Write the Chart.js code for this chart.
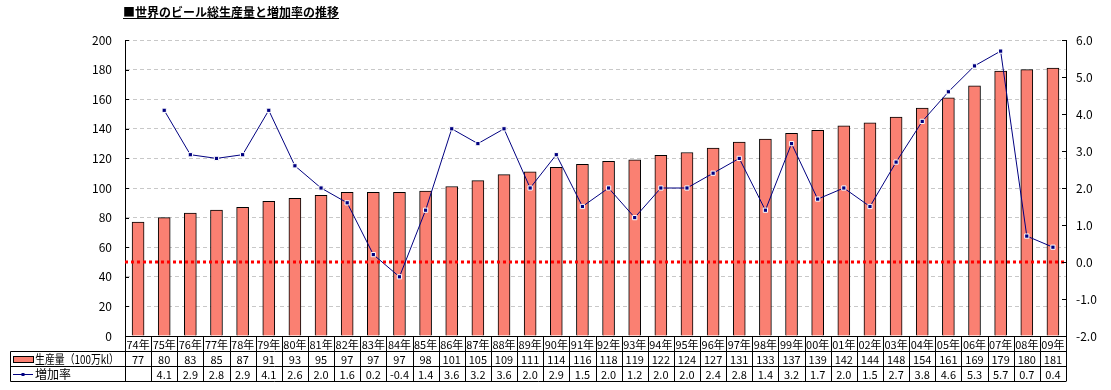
<!DOCTYPE html>
<html>
<head>
<meta charset="utf-8">
<script src="https://cdn.jsdelivr.net/npm/chart.js@4"></script>
<style>
  html, body { margin: 0; padding: 0; background: #fff; }
  #wrap { position: relative; width: 1111px; height: 390px; }
  #title {
    position: absolute; left: 123px; top: 3px;
    font: bold 12px "Noto Sans CJK JP", sans-serif;
    text-decoration: underline; white-space: nowrap; color: #000;
  }
</style>
</head>
<body>
<div id="wrap">
  <canvas id="myChart" width="1111" height="390"></canvas>
  <div id="title">■世界のビール総生産量と増加率の推移</div>
</div>
<script>
const years = ["74年", "75年", "76年", "77年", "78年", "79年", "80年", "81年", "82年", "83年", "84年", "85年",
  "86年", "87年", "88年", "89年", "90年", "91年", "92年", "93年", "94年", "95年", "96年", "97年",
  "98年", "99年", "00年", "01年", "02年", "03年", "04年", "05年", "06年", "07年", "08年", "09年"];
// 生産量 (100万kl)
const production = [77, 80, 83, 85, 87, 91, 93, 95, 97, 97, 97, 98, 101, 105, 109, 111, 114, 116, 118, 119,
  122, 124, 127, 131, 133, 137, 139, 142, 144, 148, 154, 161, 169, 179, 180, 181];
// 増加率 (%)
const growth = [null, 4.1, 2.9, 2.8, 2.9, 4.1, 2.6, 2.0, 1.6, 0.2, -0.4, 1.4, 3.6, 3.2, 3.6, 2.0, 2.9, 1.5,
  2.0, 1.2, 2.0, 2.0, 2.4, 2.8, 1.4, 3.2, 1.7, 2.0, 1.5, 2.7, 3.8, 4.6, 5.3, 5.7, 0.7, 0.4];

const barColor = "#FA8072";
const lineColor = "#000080";
const FONT = '"Noto Sans CJK JP", sans-serif';

const tablePlugin = {
  id: "dataTable",
  afterDatasetsDraw(chart) {
    // red dotted 0.0 line
    const ctx = chart.ctx;
    const area = chart.chartArea;
    const y0 = Math.round(chart.scales.y1.getPixelForValue(0));
    ctx.save();
    ctx.strokeStyle = "#ff0000";
    ctx.lineWidth = 3;
    ctx.setLineDash([3, 3]);
    ctx.beginPath();
    ctx.moveTo(area.left, y0);
    ctx.lineTo(area.right, y0);
    ctx.stroke();
    ctx.restore();
  },
  afterDraw(chart) {
    const ctx = chart.ctx;
    const area = chart.chartArea;
    const xs = chart.scales.x;
    const cw = (area.right - area.left) / years.length;
    const top = Math.round(area.bottom) + 0.5;
    const r1 = top + 15, r2 = r1 + 15, r3 = r2 + 15;
    const leftX = 10.5;

    ctx.save();
    // inside tick marks
    ctx.strokeStyle = "#000";
    ctx.lineWidth = 1;
    ctx.beginPath();
    chart.scales.y.ticks.forEach((t) => {
      const py = Math.round(chart.scales.y.getPixelForValue(t.value)) + 0.5;
      ctx.moveTo(area.left, py);
      ctx.lineTo(area.left + 4, py);
    });
    chart.scales.y1.ticks.forEach((t) => {
      const py = Math.round(chart.scales.y1.getPixelForValue(t.value)) + 0.5;
      ctx.moveTo(area.right - 4, py);
      ctx.lineTo(area.right, py);
    });
    ctx.stroke();

    // table grid
    ctx.beginPath();
    ctx.moveTo(area.left, top); ctx.lineTo(area.right, top);
    [r1, r2, r3].forEach((y) => { ctx.moveTo(leftX, y); ctx.lineTo(area.right, y); });
    ctx.moveTo(leftX, r1); ctx.lineTo(leftX, r3);
    for (let i = 0; i <= years.length; i++) {
      const vx = Math.round(area.left + i * cw) + 0.5;
      ctx.moveTo(vx, top); ctx.lineTo(vx, r3);
    }
    ctx.stroke();

    // cell texts
    ctx.fillStyle = "#000";
    ctx.font = "11px " + FONT;
    ctx.textAlign = "center";
    ctx.textBaseline = "middle";
    years.forEach((label, i) => {
      const cx = xs.getPixelForValue(i);
      ctx.fillText(label, cx, top + 8, cw - 3);
      ctx.fillText(String(production[i]), cx, r1 + 8);
      if (growth[i] !== null) ctx.fillText(growth[i].toFixed(1), cx, r2 + 8);
    });

    // row headers with legend keys
    ctx.fillStyle = barColor;
    ctx.fillRect(13.5, r1 + 5, 20, 6);
    ctx.strokeRect(13.5, r1 + 5, 20, 6);
    ctx.strokeStyle = lineColor;
    ctx.beginPath();
    ctx.moveTo(13, r2 + 8); ctx.lineTo(33, r2 + 8);
    ctx.stroke();
    ctx.fillStyle = lineColor;
    ctx.fillRect(21.5, r2 + 6.5, 3, 3);
    ctx.fillStyle = "#000";
    ctx.textAlign = "left";
    ctx.font = "12px " + FONT;
    ctx.fillText("生産量（100万kl）", 35, r1 + 8, 84);
    ctx.fillText("増加率", 35, r2 + 8);
    ctx.restore();
  }
};

new Chart("myChart", {
  type: "bar",
  data: {
    labels: years,
    datasets: [
      {
        type: "line",
        label: "増加率",
        data: growth,
        yAxisID: "y1",
        borderColor: lineColor,
        borderWidth: 1,
        tension: 0,
        pointStyle: "rect",
        pointRadius: 3,
        pointBackgroundColor: lineColor,
        pointBorderColor: "#fff",
        pointBorderWidth: 1,
        order: 0,
      },
      {
        label: "生産量（100万kl）",
        data: production,
        yAxisID: "y",
        backgroundColor: barColor,
        borderColor: "#000",
        borderWidth: 1,
        barThickness: 12,
        order: 1,
      },
    ],
  },
  options: {
    responsive: false,
    animation: false,
    layout: { padding: { top: 40, bottom: 54, left: 0, right: 0 } },
    plugins: {
      legend: { display: false },
      tooltip: { enabled: false },
    },
    scales: {
      x: { display: false },
      y: {
        position: "left",
        min: 0,
        max: 200,
        ticks: { stepSize: 20, padding: 13, color: "#000", font: { family: FONT, size: 12 } },
        grid: { color: "#c8c8c8", drawTicks: false },
        border: { color: "#000", dash: [4, 3] },
        afterFit(s) { s.width = 125; },
      },
      y1: {
        position: "right",
        min: -2,
        max: 6,
        ticks: { stepSize: 1, padding: 10, color: "#000", font: { family: FONT, size: 12 }, callback: (v) => v.toFixed(1) },
        grid: { drawOnChartArea: false, drawTicks: false },
        border: { color: "#000" },
        afterFit(s) { s.width = 45; },
      },
    },
  },
  plugins: [tablePlugin],
});
</script>
</body>
</html>
